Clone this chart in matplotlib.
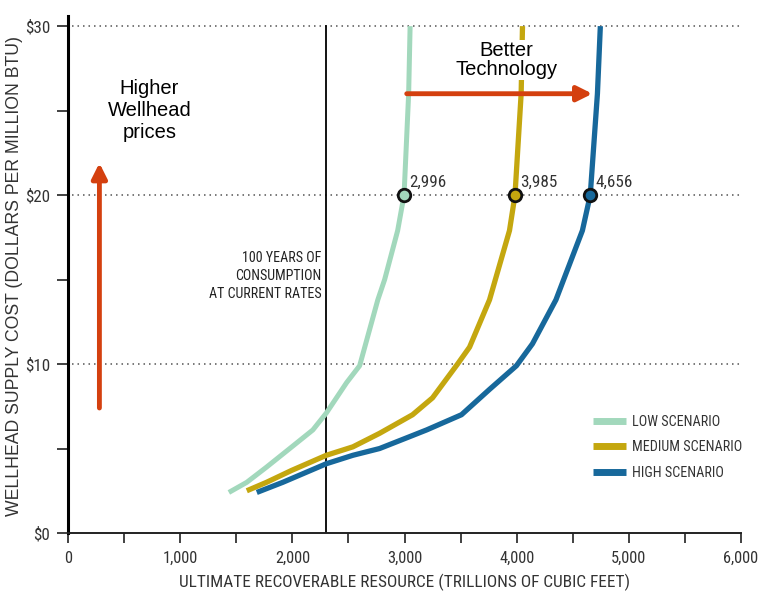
import matplotlib
matplotlib.use("Agg")
import matplotlib.pyplot as plt
from matplotlib.ticker import MultipleLocator, FixedLocator

# ---- data ----
low_x = [1434, 1594, 1770, 1977, 2183, 2303, 2484, 2600, 2762, 2823, 2939, 2996, 3037, 3050]
low_y = [2.4, 3.0, 3.9, 5.0, 6.1, 7.1, 8.9, 9.9, 13.8, 15.0, 17.9, 20.0, 26.0, 30.0]

med_x = [1594, 1770, 1992, 2303, 2540, 2778, 3072, 3250, 3473, 3580, 3758, 3936, 3985, 4040, 4052]
med_y = [2.5, 3.0, 3.7, 4.6, 5.1, 5.9, 7.0, 8.0, 10.0, 11.0, 13.8, 17.9, 20.0, 26.0, 30.0]

high_x = [1683, 1915, 2303, 2540, 2778, 3045, 3197, 3508, 3758, 3998, 4141, 4350, 4586, 4656, 4720, 4746]
high_y = [2.4, 3.0, 4.1, 4.6, 5.0, 5.7, 6.1, 7.0, 8.5, 9.9, 11.2, 13.8, 17.9, 20.0, 26.0, 30.0]

series_names = ["LOW SCENARIO", "MEDIUM SCENARIO", "HIGH SCENARIO"]
series_colors = ["#a2d8bc", "#c4a70f", "#17689b"]

marker_x = [2996, 3985, 4656]
marker_y = [20, 20, 20]
marker_labels = ["2,996", "3,985", "4,656"]

consumption_x = 2300
xticks_major = [0, 1000, 2000, 3000, 4000, 5000, 6000]
xtick_labels = ["0", "1,000", "2,000", "3,000", "4,000", "5,000", "6,000"]
yticks_major = [0, 10, 20, 30]
ytick_labels = ["$0", "$10", "$20", "$30"]

COND = ["DejaVu Sans Condensed", "Liberation Sans Narrow", "Roboto Condensed",
        "Open Sans Condensed", "Roboto", "DejaVu Sans"]
ARIAL = ["Liberation Sans", "DejaVu Sans"]

fig = plt.figure(figsize=(7.6, 5.98), dpi=100)
renderer = fig.canvas.get_renderer()


def fit_size(s, family, target_px, base=10.0):
    t = fig.text(0, 0, s, family=family, fontsize=base)
    bb = t.get_window_extent(renderer=renderer)
    t.remove()
    w = bb.width
    return base * target_px / w if w > 0 else base


ax = fig.add_axes([68/760, 1-533/598, (741-68)/760, (533-16)/598])
ax.set_xlim(0, 6000)
ax.set_ylim(0, 30.6)

for spine in ["top", "right"]:
    ax.spines[spine].set_visible(False)
ax.spines["left"].set_linewidth(2.2)
ax.spines["left"].set_color("black")
ax.spines["bottom"].set_linewidth(1.4)
ax.spines["bottom"].set_color("#222222")

for yv in [10, 20, 30]:
    ax.axhline(yv, xmin=0.006, xmax=0.998, color="#555555", lw=1.1,
               linestyle=(0, (1, 2.6)), zorder=1)

ax.plot([consumption_x, consumption_x], [0, 30], color="black", lw=1.3, zorder=2)

lines = []
for xs, ys, c, n, lw in zip([low_x, med_x, high_x], [low_y, med_y, high_y],
                            series_colors, series_names, [3.6, 3.8, 3.8]):
    l, = ax.plot(xs, ys, color=c, lw=lw, label=n, zorder=3,
                 solid_capstyle="butt", solid_joinstyle="round")
    lines.append(l)

lab_size = fit_size("4,656", COND, 37)
for mx, my, c, lab in zip(marker_x, marker_y, series_colors, marker_labels):
    ax.plot([mx], [my], marker="o", markersize=9, markerfacecolor=c,
            markeredgecolor="#111111", markeredgewidth=2.0, zorder=6)
    ax.text(mx + 50, my + 0.3, lab, fontsize=lab_size, family=COND,
            color="#333333", ha="left", va="bottom", zorder=7)

red = "#d4400f"
ax.annotate("", xy=(280, 21.9), xytext=(280, 7.4),
            arrowprops=dict(arrowstyle="-|>,head_length=0.9,head_width=0.45",
                            color=red, lw=3.5, shrinkA=0, shrinkB=0), zorder=5)
ax.annotate("", xy=(4675, 26.0), xytext=(3020, 26.0),
            arrowprops=dict(arrowstyle="-|>,head_length=0.9,head_width=0.45",
                            color=red, lw=3.5, shrinkA=0, shrinkB=0), zorder=5)

ax.text(725, 25.0, "Higher\nWellhead\nprices", fontsize=14.5, family=ARIAL,
        ha="center", va="center", linespacing=1.2, color="black")
ax.text(3910, 28.0, "Better\nTechnology", fontsize=14.5, family=ARIAL,
        ha="center", va="center", linespacing=1.0, color="black", zorder=4,
        bbox=dict(facecolor="white", edgecolor="none", pad=1.0))
cons_size = fit_size("AT CURRENT RATES", COND, 112)
ax.text(2262, 15.2, "100 YEARS OF\nCONSUMPTION\nAT CURRENT RATES", fontsize=cons_size,
        family=COND, ha="right", va="center", linespacing=1.35, color="#222222")

xtick_size = fit_size("1,000", COND, 35)
ytick_size = fit_size("$10", COND, 25)
ax.xaxis.set_major_locator(FixedLocator(xticks_major))
ax.xaxis.set_minor_locator(MultipleLocator(500))
ax.set_xticklabels(xtick_labels, family=COND, fontsize=xtick_size, color="#333333")
ax.yaxis.set_major_locator(FixedLocator(yticks_major))
ax.yaxis.set_minor_locator(MultipleLocator(5))
ax.set_yticklabels(ytick_labels, family=COND, fontsize=ytick_size, color="#333333")
ax.tick_params(axis="x", which="both", direction="out", length=7, width=1.3,
               color="#333333", pad=6)
ax.tick_params(axis="y", which="both", direction="out", length=8, width=1.3,
               color="#333333", pad=5)

xl = "ULTIMATE RECOVERABLE RESOURCE (TRILLIONS OF CUBIC FEET)"
yl = "WELLHEAD SUPPLY COST (DOLLARS PER MILLION BTU)"
xl_size = fit_size(xl, COND, 450)
yl_size = fit_size(yl, ARIAL, 480)
ax.set_xlabel(xl, family=COND, fontsize=xl_size, color="#333333")
ax.set_ylabel(yl, family=ARIAL, fontsize=yl_size, color="#333333")
ax.xaxis.set_label_coords((404 - 68) / 673, -(582 - 533) / 517)
ax.yaxis.set_label_coords(-(68 - 15) / 673, (533 - 276) / 517)
ax.xaxis.label.set_va("center")
ax.yaxis.label.set_va("center")

leg_size = fit_size("MEDIUM SCENARIO", COND, 110)
leg = ax.legend(handles=lines, loc="upper left",
                bbox_to_anchor=((593 - 68) / 673, 1 - (415 - 16) / 517),
                frameon=False, prop={"family": COND, "size": leg_size},
                handlelength=2.3, handletextpad=0.45, labelspacing=0.8,
                borderpad=0, borderaxespad=0)
for h in leg.legend_handles:
    h.set_linewidth(5)
for t in leg.get_texts():
    t.set_color("#333333")

fig.savefig("out.png", dpi=100, facecolor="white")
